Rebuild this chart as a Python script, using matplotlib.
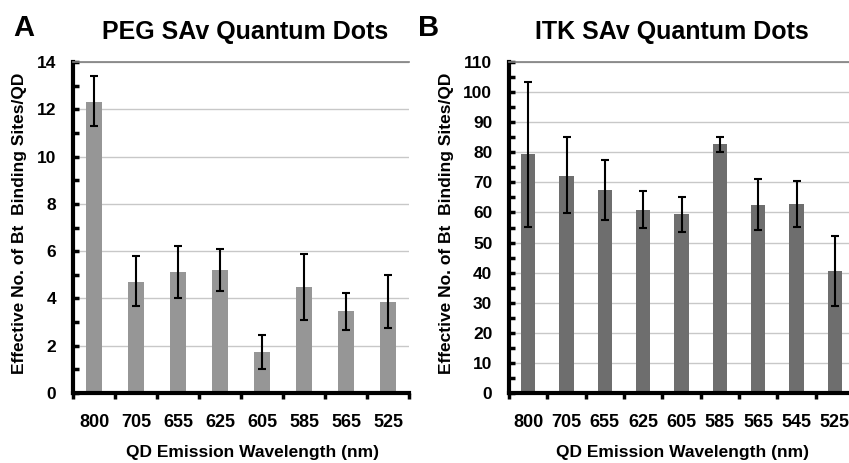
import numpy as np
import matplotlib
matplotlib.use('Agg')
from matplotlib import pyplot as plt
from matplotlib.ticker import MultipleLocator

plt.rcParams['font.family'] = ['Liberation Sans', 'DejaVu Sans']
plt.rcParams['font.weight'] = 'bold'

# panel A - PEG SAv quantum dots
peg_labels = ['800', '705', '655', '625', '605', '585', '565', '525']
peg_values = [12.3, 4.7, 5.1, 5.2, 1.75, 4.5, 3.45, 3.85]
peg_err_hi = [13.4, 5.8, 6.2, 6.1, 2.45, 5.9, 4.25, 5.0]
peg_err_lo = [11.3, 3.7, 4.0, 4.3, 1.0, 3.1, 2.65, 2.75]

# panel B - ITK SAv quantum dots
itk_labels = ['800', '705', '655', '625', '605', '585', '565', '545', '525']
itk_values = [79.4, 72.1, 67.4, 60.8, 59.4, 82.6, 62.5, 62.8, 40.7]
itk_err_hi = [103.3, 85.0, 77.3, 67.2, 65.2, 85.2, 71.0, 70.4, 52.3]
itk_err_lo = [55.3, 59.7, 57.4, 54.7, 53.5, 80.1, 54.2, 55.3, 29.0]

ylabel = 'Effective No. of Bt  Binding Sites/QD'
xlabel = 'QD Emission Wavelength (nm)'

W, H = 849, 463
fig = plt.figure(figsize=(W / 100, H / 100), dpi=100)


def draw_panel(ax, labels, values, hi, lo, color, width, ymax, major, minor):
    x = np.arange(len(labels))
    values = np.array(values)
    yerr = [values - np.array(lo), np.array(hi) - values]
    ax.bar(x, values, width=width, color=color, zorder=2)
    ax.errorbar(x, values, yerr=yerr, fmt='none', ecolor='black',
                elinewidth=1.5, capsize=3, capthick=1.5, zorder=3)
    ax.set_xlim(-0.5, len(labels) - 0.5)
    ax.set_ylim(0, ymax)
    ax.yaxis.set_major_locator(MultipleLocator(major))
    ax.yaxis.set_minor_locator(MultipleLocator(minor))
    ax.set_xticks(x)
    ax.set_xticklabels(labels)
    ax.set_xticks(np.arange(len(labels) + 1) - 0.5, minor=True)
    ax.tick_params(axis='x', which='major', length=0, pad=15, labelsize=13)
    ax.tick_params(axis='x', which='minor', direction='out', length=4, width=2.5)
    ax.tick_params(axis='y', which='major', direction='in', length=4, width=2.5,
                   labelsize=12.5, pad=12)
    ax.tick_params(axis='y', which='minor', direction='in', length=4, width=2.5)
    ax.grid(axis='y', color='#c8c8c8', linewidth=1, zorder=0)
    ax.set_axisbelow(True)
    for s in ['left', 'bottom']:
        ax.spines[s].set_linewidth(3)
    ax.spines['right'].set_visible(False)
    ax.spines['top'].set_color('#7f7f7f')
    ax.spines['top'].set_linewidth(1.2)


ax1 = fig.add_axes([73 / W, 1 - 393 / H, 336 / W, 331 / H])
draw_panel(ax1, peg_labels, peg_values, peg_err_hi, peg_err_lo, '#969696', 0.4,
           14, 2, 1)

ax2 = fig.add_axes([509 / W, 1 - 393 / H, 345 / W, 331 / H])
draw_panel(ax2, itk_labels, itk_values, itk_err_hi, itk_err_lo, '#6e6e6e', 0.38,
           110, 10, 5)

# titles, panel letters and axis labels
fig.text(245 / W, 1 - 32 / H, 'PEG SAv Quantum Dots', fontsize=18,
         fontweight='bold', ha='center', va='center')
fig.text(672 / W, 1 - 32 / H, 'ITK SAv Quantum Dots', fontsize=18,
         fontweight='bold', ha='center', va='center')
fig.text(24 / W, 1 - 28 / H, 'A', fontsize=21, fontweight='bold',
         ha='center', va='center')
fig.text(429 / W, 1 - 28 / H, 'B', fontsize=21, fontweight='bold',
         ha='center', va='center')
fig.text(20 / W, 1 - 223 / H, ylabel, fontsize=12.5, fontweight='bold',
         rotation=90, ha='center', va='center')
fig.text(447 / W, 1 - 223 / H, ylabel, fontsize=12.5, fontweight='bold',
         rotation=90, ha='center', va='center')
fig.text(253 / W, 1 - 452 / H, xlabel, fontsize=12.5, fontweight='bold',
         ha='center', va='center')
fig.text(682 / W, 1 - 452 / H, xlabel, fontsize=12.5, fontweight='bold',
         ha='center', va='center')

plt.savefig('out.png', dpi=100)
